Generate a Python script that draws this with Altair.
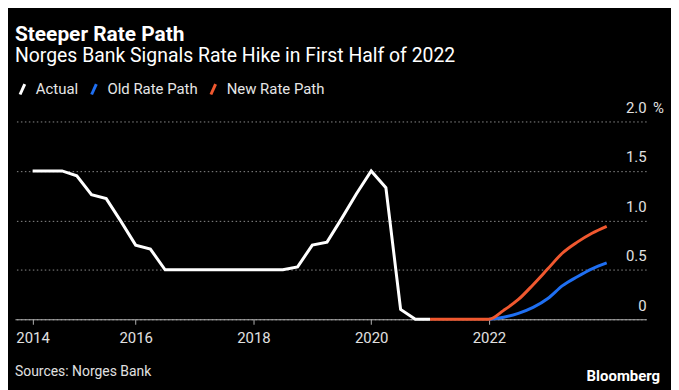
import altair as alt
import pandas as pd

# ---- data ----
actual_years = [2014.25, 2014.5, 2014.75, 2015.0, 2015.25, 2015.5, 2015.75, 2016.0,
                2016.25, 2016.5, 2016.75, 2017.0, 2017.25, 2017.5, 2017.75, 2018.0,
                2018.25, 2018.5, 2018.75, 2019.0, 2019.25, 2019.5, 2019.75, 2020.0,
                2020.25, 2020.5, 2020.75, 2021.0]
actual_values = [1.5, 1.5, 1.5, 1.45, 1.26, 1.22, 0.99, 0.75,
                 0.71, 0.5, 0.5, 0.5, 0.5, 0.5, 0.5, 0.5,
                 0.5, 0.5, 0.53, 0.75, 0.78, 1.02, 1.27, 1.5,
                 1.33, 0.10, 0.0, 0.0]

old_years = [2022.0, 2022.25, 2022.5, 2022.75, 2023.0, 2023.25, 2023.5, 2023.75, 2024.0]
old_values = [0.0, 0.02, 0.06, 0.12, 0.21, 0.34, 0.43, 0.51, 0.57]

new_years = [2021.0, 2021.25, 2021.5, 2021.75, 2022.0, 2022.25, 2022.5, 2022.75,
             2023.0, 2023.25, 2023.5, 2023.75, 2024.0]
new_values = [0.0, 0.0, 0.0, 0.0, 0.0, 0.09, 0.2, 0.35, 0.51, 0.67, 0.78, 0.87, 0.94]

series_names = ["Actual", "Old Rate Path", "New Rate Path"]
series_colors = ["#ffffff", "#1f6ff2", "#f0582f"]

x_tick_values = [2014.25, 2016, 2018, 2020, 2022]
y_tick_values = [0, 0.5, 1.0, 1.5, 2.0]

rows = []
for i, (xs, ys) in enumerate([(actual_years, actual_values),
                              (old_years, old_values),
                              (new_years, new_values)]):
    for x, y in zip(xs, ys):
        rows.append({"year": x, "rate": y, "series": series_names[i], "order": i})
df = pd.DataFrame(rows)

W, H = 635, 199
FONT = "Roboto"

color = alt.Color(
    "series:N",
    scale=alt.Scale(domain=series_names, range=series_colors),
    legend=alt.Legend(
        title=None, orient="none", legendX=0, legendY=-40, direction="horizontal",
        labelFontSize=15, labelColor="#e6e6e6", labelFont=FONT,
        symbolType="M-0.45,1L0.45,-1", symbolStrokeWidth=3, symbolSize=110,
        columnPadding=7, labelOffset=6,
    ),
)

x = alt.X(
    "year:Q",
    scale=alt.Scale(domain=[2013.95, 2024.67], nice=False, zero=False),
    axis=alt.Axis(
        title=None, values=x_tick_values, labelExpr="'' + floor(datum.value)",
        grid=False, domainColor="#b0b0b0", tickColor="#b0b0b0", tickSize=5,
        labelColor="#e0e0e0", labelFontSize=15, labelFont=FONT, labelPadding=6,
        labelFlush=False,
    ),
)
y = alt.Y(
    "rate:Q",
    scale=alt.Scale(domain=[0, 2], nice=False),
    axis=alt.Axis(
        title=None, orient="right", values=y_tick_values,
        labelExpr="datum.value == 0 ? '0' : format(datum.value, '.1f')",
        grid=True, gridColor="#8a8a8a", gridDash=[1.5, 2.5], gridWidth=1,
        domain=False, ticks=False, labelAlign="right", labelPadding=0,
        labelBaseline="alphabetic", labelOffset=-9,
        labelColor="#e0e0e0", labelFontSize=15, labelFont=FONT,
    ),
)

lines_actual = alt.Chart(df).transform_filter("datum.series == 'Actual'").mark_line(
    strokeWidth=3, strokeJoin="miter"
).encode(x=x, y=y, color=color, detail="series:N")

lines_paths = alt.Chart(df).transform_filter("datum.series != 'Actual'").mark_line(
    strokeWidth=3, interpolate="monotone"
).encode(x=x, y=y, color=color, detail="series:N",
         order=alt.Order("year:Q"))

pct = alt.Chart(pd.DataFrame({"t": ["%"]})).mark_text(
    align="left", baseline="alphabetic", fontSize=15, font=FONT, color="#e0e0e0", dy=-9
).encode(text="t:N", x=alt.value(W + 7), y=alt.value(0))

source = alt.Chart(pd.DataFrame({"t": ["Sources: Norges Bank"]})).mark_text(
    align="left", baseline="middle", fontSize=14, font=FONT, color="#e0e0e0"
).encode(text="t:N", x=alt.value(0), y=alt.value(H + 53))

brand = alt.Chart(pd.DataFrame({"t": ["Bloomberg"]})).mark_text(
    align="right", baseline="middle", fontSize=15, font=FONT, fontWeight="bold",
    color="#ffffff"
).encode(text="t:N", x=alt.value(W + 14), y=alt.value(H + 57))

chart = alt.layer(lines_actual, lines_paths, pct, source, brand).properties(
    width=W, height=H,
    title=alt.TitleParams(
        text="Steeper Rate Path",
        subtitle="Norges Bank Signals Rate Hike in First Half of 2022",
        anchor="start", color="#ffffff", subtitleColor="#ffffff",
        font=FONT, subtitleFont=FONT, fontSize=21, fontWeight="bold",
        subtitleFontSize=19.5, subtitlePadding=2, offset=16,
    ),
    background="#000000",
    padding={"left": 7, "right": 7, "top": 15, "bottom": 5},
).configure_view(stroke=None)

chart.save("out.html", embed_options={"renderer": "svg", "actions": False})
